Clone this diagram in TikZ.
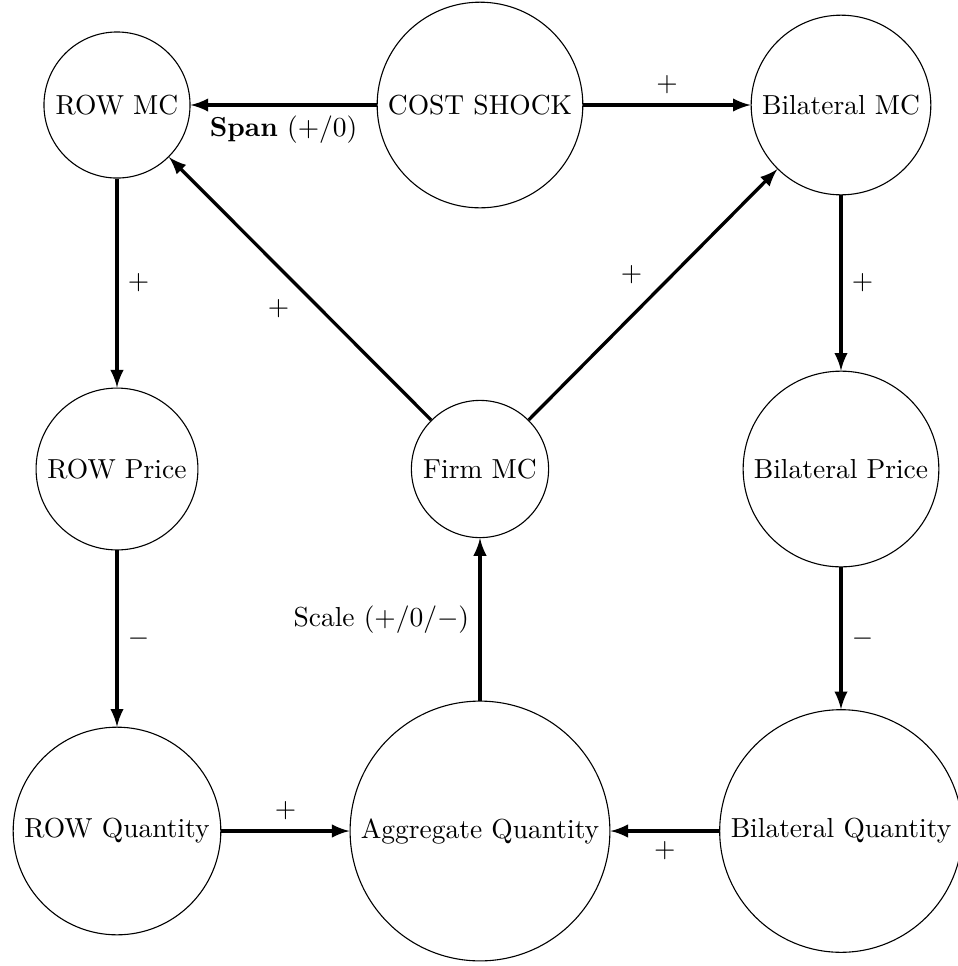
\documentclass[tikz,border=0pt]{standalone}
\usetikzlibrary{arrows}
\begin{document}
\begin{tikzpicture}[x=0.363636pt,y=-0.363636pt,
  state/.style={circle,draw,line width=0.4pt},
  link/.style={-latex,very thick}]
\useasboundingbox (0,0) rectangle (958,966);
\node[state] (rowmc) at (117,105) {ROW MC};
\node[state] (shock) at (480,105) {COST SHOCK};
\node[state] (bilmc) at (841,105) {Bilateral MC};
\node[state] (rowp) at (117,469) {ROW Price};
\node[state] (firm) at (480,469) {Firm MC};
\node[state] (bilp) at (841,469) {Bilateral Price};
\node[state] (rowq) at (117,831) {ROW Quantity};
\node[state] (agg) at (480,831) {Aggregate Quantity};
\node[state] (bilq) at (841,831) {Bilateral Quantity};
\draw[link] (shock) -- node[below] {\textbf{Span} $(+/0)$} (rowmc);
\draw[link] (shock) -- node[above] {$+$} (bilmc);
\draw[link] (rowmc) -- node[right] {$+$} (rowp);
\draw[link] (bilmc) -- node[right] {$+$} (bilp);
\draw[link] (rowp) -- node[right] {$-$} (rowq);
\draw[link] (bilp) -- node[right] {$-$} (bilq);
\draw[link] (firm) -- node[below left] {$+$} (rowmc);
\draw[link] (firm) -- node[above left] {$+$} (bilmc);
\draw[link] (rowq) -- node[above] {$+$} (agg);
\draw[link] (bilq) -- node[below] {$+$} (agg);
\draw[link] (agg) -- node[left] {Scale $(+/0/-)$} (firm);
\end{tikzpicture}
\end{document}
